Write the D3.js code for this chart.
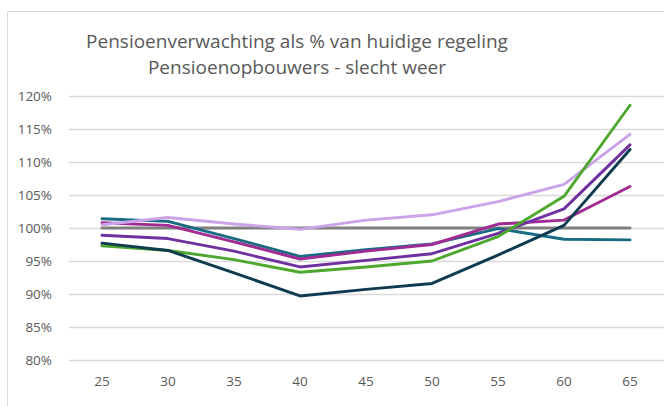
<!DOCTYPE html>
<html>
<head>
<meta charset="utf-8">
<script src="https://cdn.jsdelivr.net/npm/d3@7"></script>
<style>
  body { margin: 0; background: #fff; }
  text { font-family: "Open Sans", "Noto Sans", sans-serif; }
</style>
</head>
<body>
<div id="chart"></div>
<script>
// leeftijden op de x-as
var ages = ["25", "30", "35", "40", "45", "50", "55", "60", "65"];

// y-as ticks (in %)
var yTicks = [80, 85, 90, 95, 100, 105, 110, 115, 120];

// series, waarden
var baseline   = [100, 100, 100, 100, 100, 100, 100, 100, 100];
var tealSerie  = [101.4, 101.0, 98.4, 95.7, 96.7, 97.6, 99.9, 98.3, 98.2];
var magSerie   = [100.8, 100.4, 97.9, 95.3, 96.5, 97.5, 100.6, 101.2, 106.3];
var lilaSerie  = [100.5, 101.6, 100.6, 99.8, 101.2, 102.0, 104.0, 106.6, 114.2];
var paarsSerie = [98.9, 98.4, 96.5, 94.1, 95.1, 96.1, 99.2, 102.9, 112.6];
var groenSerie = [97.3, 96.6, 95.2, 93.3, 94.1, 95.0, 98.7, 104.8, 118.6];
var navySerie  = [97.7, 96.6, 93.2, 89.7, 90.7, 91.6, 95.9, 100.4, 111.9];

var series = [
    {values: baseline,   color: "#808080", width: 3.2},
    {values: tealSerie,  color: "#196b84", width: 2.9},
    {values: magSerie,   color: "#a02b93", width: 2.9},
    {values: lilaSerie,  color: "#caa3e8", width: 2.9},
    {values: paarsSerie, color: "#7030a0", width: 2.9},
    {values: groenSerie, color: "#4ea72e", width: 2.9},
    {values: navySerie,  color: "#0f3b50", width: 2.9}
];

var width = 664,
    height = 406;

var svg = d3.select("#chart")
    .append("svg")
    .attr("width", width)
    .attr("height", height);

// kader (loopt door buiten beeld rechts en onder)
svg.append("path")
    .attr("d", "M7.5," + height + " V11.5 H" + width)
    .attr("fill", "none")
    .attr("stroke", "#d9d9d9")
    .attr("stroke-width", 1);

// titel
var title = svg.append("text")
    .attr("text-anchor", "middle")
    .attr("fill", "#595959")
    .style("font-size", "19px");
title.append("tspan").attr("x", 297).attr("y", 48)
    .text("Pensioenverwachting als % van huidige regeling");
title.append("tspan").attr("x", 297).attr("y", 74)
    .text("Pensioenopbouwers - slecht weer");

// schalen
var x = d3.scaleBand()
    .domain(ages)
    .range([69, 663]);

var y = d3.scaleLinear()
    .domain([80, 120])
    .range([360, 96]);

// gridlijnen
svg.append("g")
    .selectAll("line")
    .data(yTicks)
    .enter()
    .append("line")
    .attr("x1", 69)
    .attr("x2", width)
    .attr("y1", function(d) { return Math.round(y(d)) + 0.5; })
    .attr("y2", function(d) { return Math.round(y(d)) + 0.5; })
    .attr("stroke", "#d9d9d9")
    .attr("stroke-width", 1.3);

// y-as labels
var yAxis = svg.append("g")
    .attr("transform", "translate(62,0)")
    .call(d3.axisLeft(y).tickValues(yTicks).tickSize(0).tickPadding(10)
        .tickFormat(function(d) { return d + "%"; }));
yAxis.select(".domain").remove();
yAxis.selectAll("text")
    .attr("fill", "#595959")
    .style("font-size", "13.5px")
    .style("font-family", "'Open Sans', 'Noto Sans', sans-serif");

// x-as labels
var xAxis = svg.append("g")
    .attr("transform", "translate(0,370)")
    .call(d3.axisBottom(x).tickSize(0).tickPadding(6));
xAxis.select(".domain").remove();
xAxis.selectAll("text")
    .attr("fill", "#595959")
    .style("font-size", "13.5px")
    .style("font-family", "'Open Sans', 'Noto Sans', sans-serif");

// lijnen
var line = d3.line()
    .x(function(d, i) { return x(ages[i]) + x.bandwidth() / 2; })
    .y(function(d) { return y(d); });

svg.selectAll(".serie")
    .data(series)
    .enter()
    .append("path")
    .attr("class", "serie")
    .attr("d", function(s) { return line(s.values); })
    .attr("fill", "none")
    .attr("stroke", function(s) { return s.color; })
    .attr("stroke-width", function(s) { return s.width; })
    .attr("stroke-linejoin", "round")
    .attr("stroke-linecap", "round");
</script>
</body>
</html>
